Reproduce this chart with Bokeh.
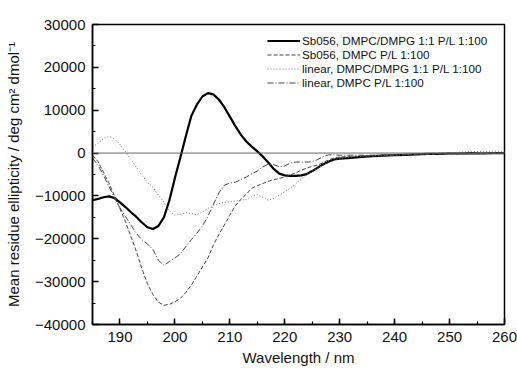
from bokeh.plotting import figure
from bokeh.models import Range1d, SingleIntervalTicker, Span, Legend, LegendItem
from bokeh.embed import file_html
from bokeh.resources import INLINE

wavelength = list(range(185, 231)) + list(range(232, 261, 2))

sb056_dmpc_dmpg = [
    -11000, -10700, -10300, -10100, -10500, -11500, -12600, -13800, -14900, -16200,
    -17300, -17700, -17000, -15000, -11000, -5800, -1000, 4000, 8700, 11300,
    13200, 14000, 13700, 12500, 10700, 8500, 6300, 4300, 2700, 1500,
    400, -800, -2200, -3700, -4800, -5200, -5300, -5300, -5200, -4900,
    -4200, -3400, -2600, -2000, -1500, -1300,
    -1100, -900, -700, -600, -500, -400, -300, -200, -200, -100, -100, 0, -100, 0, 0,
]

sb056_dmpc = [
    -500, -2000, -4500, -7000, -10000, -13000, -16000, -19500, -23000, -27000,
    -30500, -33000, -34800, -35500, -35300, -34700, -33900, -32500, -30800, -28700,
    -26600, -24500, -21500, -19000, -16800, -14500, -12300, -10800, -9600, -8200,
    -7600, -7100, -6600, -6200, -5900, -5600, -5100, -4600, -4000, -3500,
    -3100, -2800, -2200, -1600, -1100, -900,
    -800, -700, -700, -600, -500, -400, -300, -300, -200, -200, -200, -100, -100, -100, 0,
]

linear_dmpc_dmpg = [
    1500, 2200, 3400, 3900, 3300, 2000, 300, -1500, -3300, -5200,
    -6800, -8000, -9800, -11500, -13500, -14500, -14300, -13900, -14100, -14400,
    -13800, -12900, -12200, -11800, -11500, -11400, -11200, -11000, -10800, -10200,
    -9700, -10300, -11000, -10600, -9800, -9000, -8200, -7200, -6100, -5000,
    -4200, -3500, -2800, -2100, -1600, -1200,
    -900, -700, -600, -500, -400, -300, -200, -100, 0, 100, 200, 400, 300, 500, 300,
]

linear_dmpc = [
    -1200, -2800, -5200, -7800, -10400, -12800, -14800, -16800, -18800, -20200,
    -21200, -22500, -25000, -26200, -25300, -24500, -23500, -21800, -20200, -18700,
    -17000, -14800, -12000, -9300, -7500, -7000, -6800, -6200, -5600, -4800,
    -4200, -3200, -2600, -2700, -3200, -3000, -2300, -2100, -2100, -2100,
    -2000, -1500, -800, -400, -400, -500,
    -500, -500, -500, -400, -400, -300, -200, -200, -100, 0, 0, -100, 0, 100, 0,
]

series_labels = [
    "Sb056, DMPC/DMPG 1:1 P/L 1:100",
    "Sb056, DMPC P/L 1:100",
    "linear, DMPC/DMPG 1:1 P/L 1:100",
    "linear, DMPC P/L 1:100",
]

FONT = "Liberation Sans"

p = figure(width=517, height=369, output_backend="svg", toolbar_location=None,
           x_range=Range1d(185, 260), y_range=Range1d(-40000, 30000),
           min_border_left=92, min_border_right=13, min_border_top=24, min_border_bottom=45)
p.xgrid.visible = False
p.ygrid.visible = False
p.outline_line_color = "black"
p.outline_line_width = 1.5

zero = Span(location=0, dimension="width", line_color="#666666", line_width=1)
p.add_layout(zero)

r1 = p.line(wavelength, sb056_dmpc_dmpg, line_color="black", line_width=2.2)
r2 = p.line(wavelength, sb056_dmpc, line_color="#444444", line_width=1, line_dash="4 2")
r3 = p.line(wavelength, linear_dmpc_dmpg, line_color="#777777", line_width=1, line_dash="1 2")
r4 = p.line(wavelength, linear_dmpc, line_color="#444444", line_width=1, line_dash="6 2 1 2")

legend = Legend(items=[LegendItem(label=l, renderers=[r]) for l, r in
                       zip(series_labels, [r1, r2, r3, r4])],
                location=(175, 235), margin=0, padding=0, spacing=1,
                label_height=13, glyph_height=13, glyph_width=33, label_standoff=2,
                label_text_font=FONT, label_text_font_size="11.7px",
                label_text_color="#111111",
                border_line_alpha=0, background_fill_alpha=0)
p.add_layout(legend)

for ax in (p.xaxis[0], p.yaxis[0]):
    ax.axis_line_width = 1.5
    ax.axis_line_color = "black"
    ax.major_tick_in = 6
    ax.major_tick_out = 0
    ax.minor_tick_in = 3
    ax.minor_tick_out = 0
    ax.major_tick_line_width = 1.5
    ax.minor_tick_line_width = 1.2
    ax.major_tick_line_color = "black"
    ax.minor_tick_line_color = "black"
    ax.major_label_text_font = FONT
    ax.major_label_text_font_size = "15px"
    ax.major_label_text_color = "#111111"
    ax.axis_label_text_font = FONT
    ax.axis_label_text_font_size = "15px"
    ax.axis_label_text_font_style = "normal"
    ax.axis_label_text_color = "#111111"

p.xaxis.ticker = SingleIntervalTicker(interval=10, num_minor_ticks=2)
p.yaxis.ticker = SingleIntervalTicker(interval=10000, num_minor_ticks=2)
p.xaxis.axis_label = "Wavelength / nm"
p.yaxis.axis_label = "Mean residue ellipticity / deg cm\u00b2 dmol\u207b\u00b9"
p.xaxis.major_label_standoff = 7
p.xaxis.axis_label_standoff = 4
p.yaxis.major_label_standoff = 7
p.yaxis.axis_label_standoff = 10

open("out.html", "w").write(file_html(p, INLINE))
